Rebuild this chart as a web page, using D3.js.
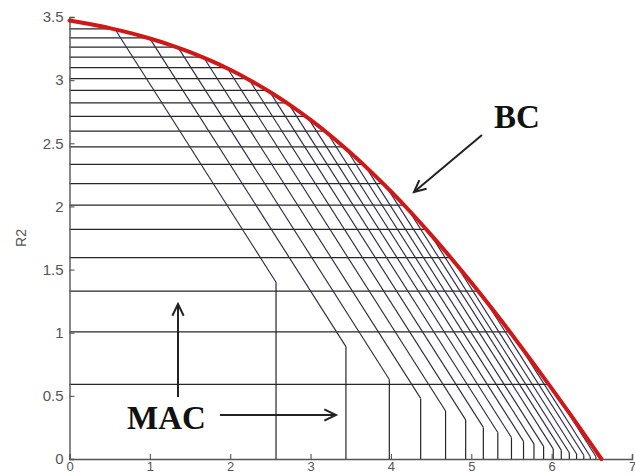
<!DOCTYPE html>
<html>
<head>
<meta charset="utf-8">
<script src="https://cdn.jsdelivr.net/npm/d3@7"></script>
<style>
  html, body { margin: 0; padding: 0; background: #fff; }
  svg { display: block; }
</style>
</head>
<body>
<svg id="chart" width="635" height="476"></svg>
<script>
// Broadcast channel capacity boundary (R1, R2)
const bcR1 = [0, 0.25, 0.5, 0.75, 1.0, 1.25, 1.5, 1.75, 2.0, 2.25, 2.5, 2.75, 3.0, 3.25,
              3.5, 3.75, 4.0, 4.25, 4.5, 4.75, 5.0, 5.25, 5.5, 5.75, 6.0, 6.25, 6.5, 6.62];
const bcR2 = [3.473, 3.444, 3.412, 3.374, 3.330, 3.280, 3.222, 3.156, 3.082, 2.998, 2.904,
              2.800, 2.685, 2.560, 2.423, 2.276, 2.119, 1.952, 1.775, 1.590, 1.397, 1.197,
              0.990, 0.777, 0.559, 0.337, 0.110, 0];

// Dual MAC regions: single-user limits and sum-rate limit of each pentagon
const macR2Max = [3.405, 3.335, 3.261, 3.183, 3.100, 3.013, 2.919, 2.820, 2.713, 2.597,
                  2.471, 2.333, 2.181, 2.011, 1.818, 1.594, 1.330, 1.007, 0.590];
const macR1Max = [2.57, 3.44, 3.98, 4.37, 4.68, 4.93, 5.15, 5.33, 5.50, 5.65,
                  5.78, 5.90, 6.02, 6.12, 6.22, 6.31, 6.40, 6.48, 6.55];
const macSum   = [3.97, 4.33, 4.61, 4.85, 5.06, 5.24, 5.40, 5.54, 5.67, 5.79,
                  5.90, 6.00, 6.10, 6.19, 6.27, 6.35, 6.43, 6.50, 6.57];

const xTicks = [0, 1, 2, 3, 4, 5, 6, 7];
const yTicks = [0, 0.5, 1, 1.5, 2, 2.5, 3, 3.5];

const svg = d3.select("#chart");
const x = d3.scaleLinear().domain([0, 7]).range([69.5, 632]);
const y = d3.scaleLinear().domain([0, 3.5]).range([459, 17]);

// MAC pentagon outlines
const macs = macR2Max.map((b, i) => ({ b, a: macR1Max[i], s: macSum[i] }));
const g = svg.append("g");
g.selectAll("path.edge")
  .data(macs)
  .join("path")
  .attr("fill", "none")
  .attr("stroke", "#262626")
  .attr("stroke-width", 1.25)
  .attr("d", d => `M${x(0)},${y(d.b)}H${x(d.s - d.b)}`);
g.selectAll("path.diag")
  .data(macs)
  .join("path")
  .attr("fill", "none")
  .attr("stroke", "#2c2c48")
  .attr("stroke-width", 1.15)
  .attr("d", d => `M${x(d.s - d.b)},${y(d.b)}L${x(d.a)},${y(d.s - d.a)}`);
g.selectAll("path.vert")
  .data(macs)
  .join("path")
  .attr("fill", "none")
  .attr("stroke", "#262626")
  .attr("stroke-width", 1.2)
  .attr("d", d => `M${x(d.a)},${y(d.s - d.a)}V${y(0)}`);

// Axes (ticks drawn inward)
const xAxis = d3.axisBottom(x).tickValues(xTicks).tickSize(-5).tickPadding(4)
  .tickFormat(d3.format("d"));
const yAxis = d3.axisLeft(y).tickValues(yTicks).tickSize(-5).tickPadding(6)
  .tickFormat(d => d === 0 ? "0" : d3.format("")(d));

const gx = svg.append("g").attr("transform", `translate(0,${y(0)})`).call(xAxis);
const gy = svg.append("g").attr("transform", `translate(${x(0)},0)`).call(yAxis);
[gx, gy].forEach(ax => {
  ax.select(".domain").attr("stroke", "#555").attr("stroke-width", 1.4);
  ax.selectAll(".tick line").attr("stroke", "#555").attr("stroke-width", 1.1);
  ax.selectAll(".tick text")
    .attr("fill", "#555")
    .style("font-family", "'Liberation Sans', Arial, sans-serif")
    .style("font-size", "15px");
});
gx.selectAll(".tick text").attr("dy", "0.62em").style("font-size", "13px");

svg.append("text")
  .attr("transform", "translate(22,238) rotate(-90)")
  .attr("text-anchor", "middle")
  .attr("dominant-baseline", "middle")
  .attr("fill", "#555")
  .style("font-family", "'Liberation Sans', Arial, sans-serif")
  .style("font-size", "14px")
  .text("R2");

// BC boundary
const bcPts = bcR1.map((r, i) => [r, bcR2[i]]);
svg.append("path")
  .datum(bcPts)
  .attr("fill", "none")
  .attr("stroke", "#d01818")
  .attr("stroke-width", 4)
  .attr("stroke-linecap", "round")
  .attr("d", d3.line().x(d => x(d[0])).y(d => y(d[1])).curve(d3.curveMonotoneX));

// Annotations
function arrow(x1, y1, x2, y2) {
  const ang = Math.atan2(y2 - y1, x2 - x1);
  const len = 13, spread = 0.45;
  const p1 = [x2 - len * Math.cos(ang - spread), y2 - len * Math.sin(ang - spread)];
  const p2 = [x2 - len * Math.cos(ang + spread), y2 - len * Math.sin(ang + spread)];
  svg.append("path")
    .attr("fill", "none")
    .attr("stroke", "#222")
    .attr("stroke-width", 2)
    .attr("d", `M${x1},${y1}L${x2},${y2}`);
  svg.append("path")
    .attr("fill", "none")
    .attr("stroke", "#222")
    .attr("stroke-width", 2)
    .attr("stroke-linejoin", "miter")
    .attr("d", `M${p1[0]},${p1[1]}L${x2},${y2}L${p2[0]},${p2[1]}`);
}
arrow(482, 135, 414, 192);
arrow(178, 397, 178, 304);
arrow(220, 415, 336, 415);

const labelFont = "'Liberation Serif', 'Times New Roman', serif";
svg.append("text")
  .attr("x", 494).attr("y", 128)
  .attr("fill", "#111")
  .style("font-family", labelFont)
  .style("font-weight", "bold")
  .style("font-size", "33px")
  .text("BC");
svg.append("text")
  .attr("x", 127).attr("y", 429)
  .attr("fill", "#111")
  .style("font-family", labelFont)
  .style("font-weight", "bold")
  .style("font-size", "33px")
  .text("MAC");
</script>
</body>
</html>
